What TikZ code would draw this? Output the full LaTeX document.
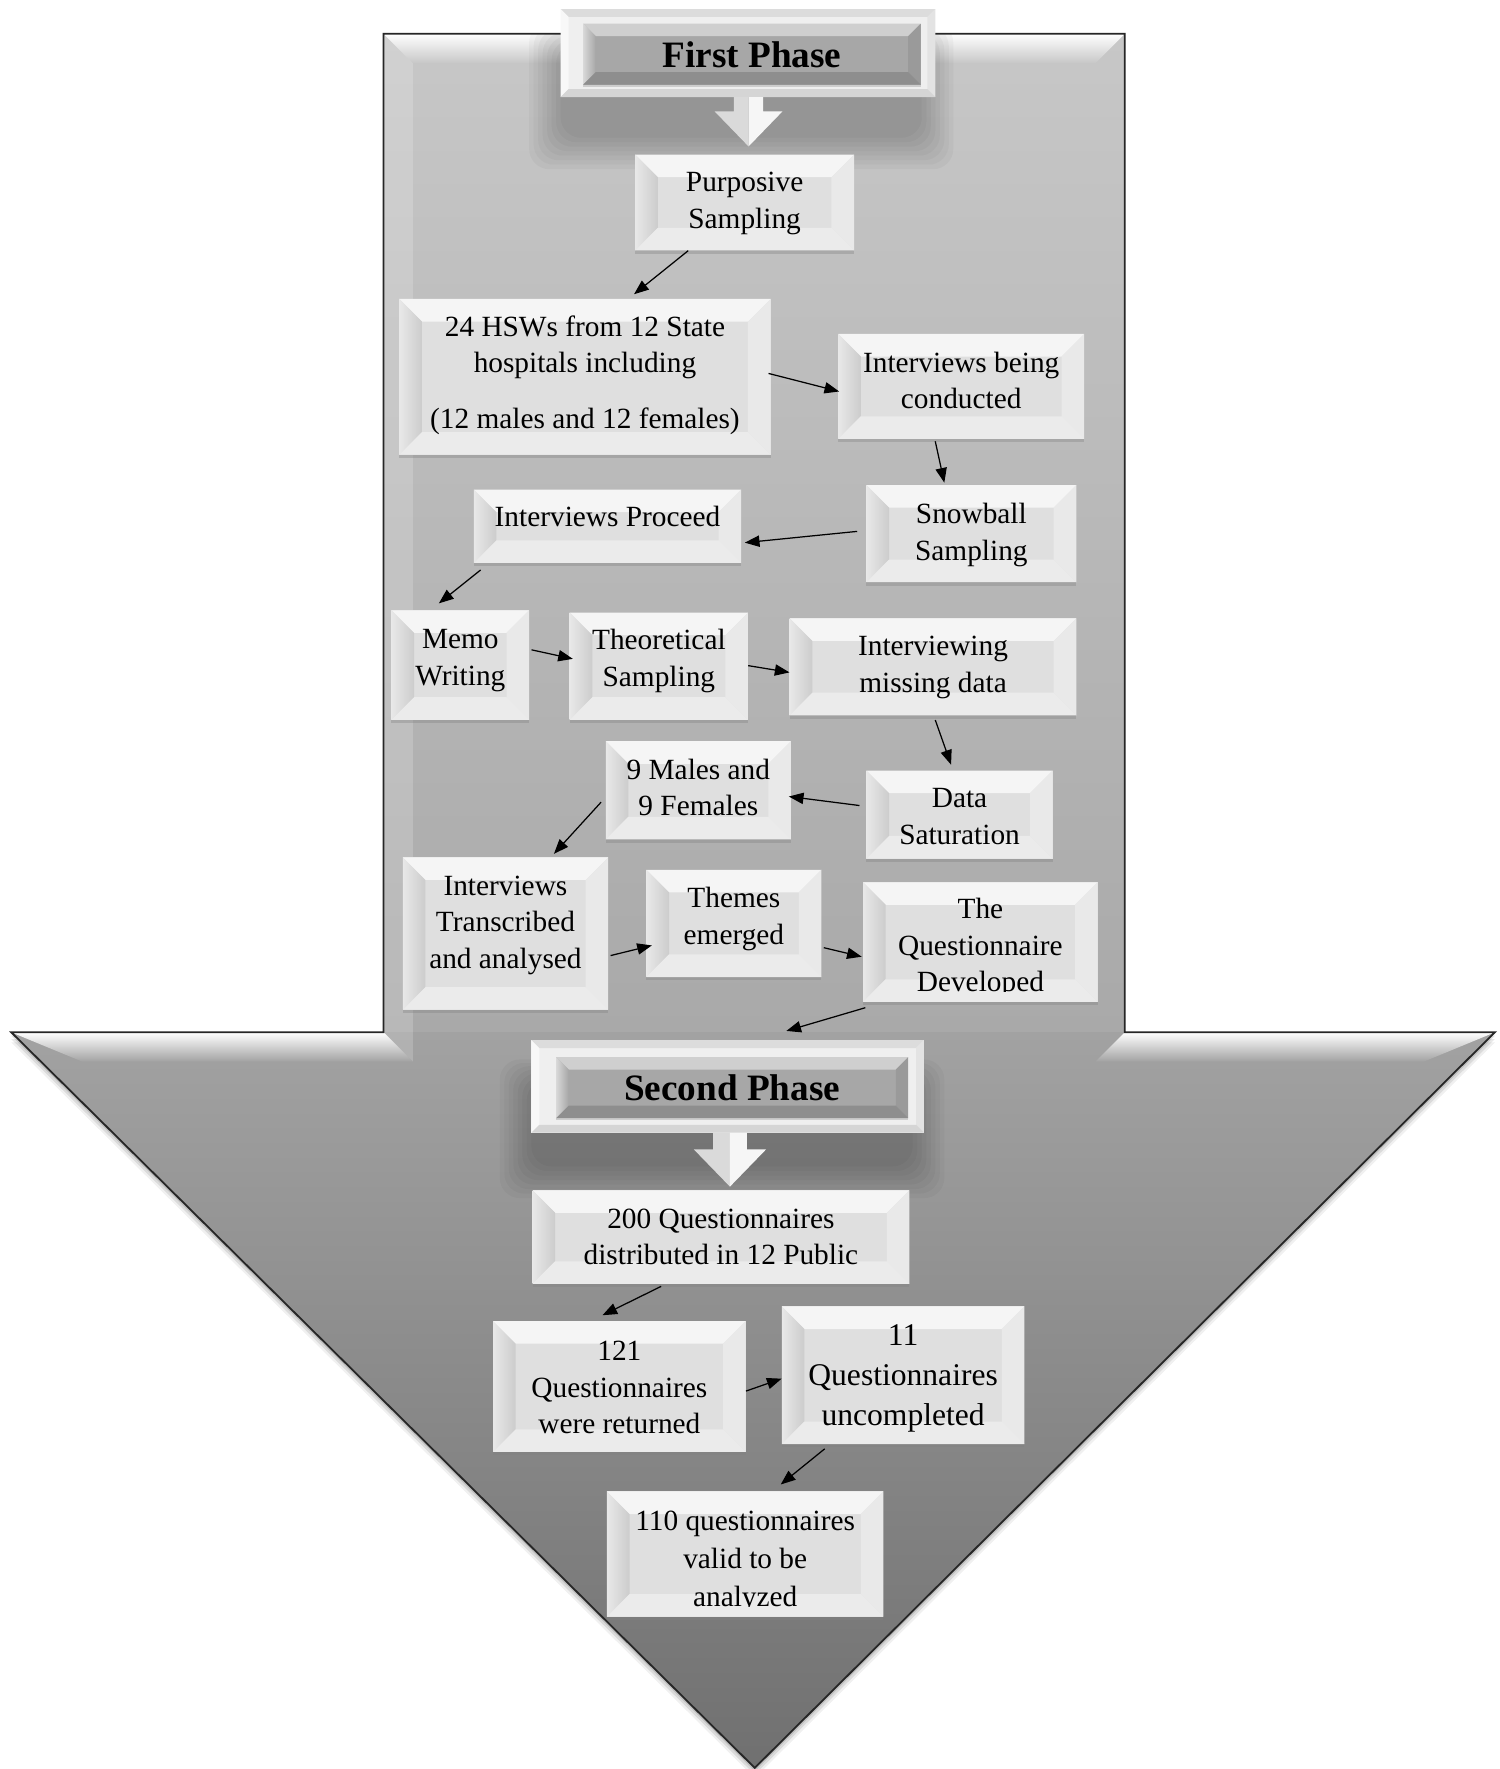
\documentclass[tikz,border=0pt]{standalone}
\usepackage{fontspec}
\setmainfont{Liberation Serif}
\usetikzlibrary{calc,shadows,arrows.meta}

% palette
\definecolor{bxmid}{HTML}{DFDFDF}
\definecolor{bxtop}{HTML}{F5F5F5}
\definecolor{bxlefta}{HTML}{E8E8E8}
\definecolor{bxleftb}{HTML}{CCCCCC}
\definecolor{bxright}{HTML}{E9E9E9}
\definecolor{bxbot}{HTML}{EBEBEB}
\definecolor{frmid}{HTML}{EFEFEF}
\definecolor{frtop}{HTML}{DCDCDC}
\definecolor{frleft}{HTML}{F8F8F8}
\definecolor{frright}{HTML}{E3E3E3}
\definecolor{frbot}{HTML}{D5D5D5}
\definecolor{hdmid}{HTML}{A7A7A7}
\definecolor{hdtop}{HTML}{CFCFCF}
\definecolor{hdleft}{HTML}{D8D8D8}
\definecolor{hdright}{HTML}{9A9A9A}
\definecolor{hdbot}{HTML}{8E8E8E}
\definecolor{shafttop}{HTML}{C7C7C7}
\definecolor{shaftbot}{HTML}{A9A9A9}
\definecolor{headtop}{HTML}{A2A2A2}
\definecolor{headbot}{HTML}{707070}
\definecolor{hollowL}{HTML}{DADADA}
\definecolor{hollowR}{HTML}{F6F6F6}

% type sizes
\newcommand{\txtbody}{\fontsize{26}{32.5}\selectfont}
\newcommand{\txtbig}{\fontsize{28}{35.5}\selectfont}
\newcommand{\txtmid}{\fontsize{26}{34}\selectfont}
\newcommand{\txtphase}{\fontsize{33}{40}\selectfont\bfseries}

% centred lines of a box, optionally lifted inside the box (box size kept)
\newcommand{\boxlines}[2][0pt]{\raisebox{#1}[\height][\depth]{\begin{tabular}{@{}c@{}}#2\end{tabular}}}

% four bevel faces of the current node: #1 depth, #2..#5 top/left/right/bottom fills
\newcommand{\bevelfaces}[5]{%
  \coordinate (pp-nw) at (path picture bounding box.north west);
  \coordinate (pp-ne) at (path picture bounding box.north east);
  \coordinate (pp-sw) at (path picture bounding box.south west);
  \coordinate (pp-se) at (path picture bounding box.south east);
  \path[#2] (pp-nw) -- (pp-ne) -- ([xshift=-#1,yshift=-#1]pp-ne) -- ([xshift=#1,yshift=-#1]pp-nw) -- cycle;
  \path[#3] (pp-nw) -- (pp-sw) -- ([xshift=#1,yshift=#1]pp-sw) -- ([xshift=#1,yshift=-#1]pp-nw) -- cycle;
  \path[#4] (pp-ne) -- (pp-se) -- ([xshift=-#1,yshift=#1]pp-se) -- ([xshift=-#1,yshift=-#1]pp-ne) -- cycle;
  \path[#5] (pp-sw) -- (pp-se) -- ([xshift=-#1,yshift=#1]pp-se) -- ([xshift=#1,yshift=#1]pp-sw) -- cycle;
}

% hollow block arrow pointing down: #1 top centre, #2 tip, #3 half shaft, #4 half head, #5 head length
\newcommand{\hollowdown}[5]{%
  \fill[hollowL] ($(#1)+(-#3,0)$) -- (#1) -- (#2) -- ($(#2)+(-#4,-#5)$) -- ($(#2)+(-#3,-#5)$) -- cycle;
  \fill[hollowR] ($(#1)+(#3,0)$) -- (#1) -- (#2) -- ($(#2)+(#4,-#5)$) -- ($(#2)+(#3,-#5)$) -- cycle;
}

\tikzset{
  dims/.style 2 args={minimum width=#1pt, minimum height=#2pt},
  stepbox/.style={rectangle, inner sep=0pt, fill=bxmid, font=\txtbody,
    drop shadow={shadow xshift=0pt, shadow yshift=-3pt, opacity=.35},
    path picture={\bevelfaces{20pt}{fill=bxtop}{left color=bxlefta,right color=bxleftb}{fill=bxright}{fill=bxbot}}},
  phaseframe/.style={rectangle, inner sep=0pt, fill=frmid,
    path picture={\bevelfaces{7pt}{fill=frtop}{fill=frleft}{fill=frright}{fill=frbot}}},
  phasebox/.style={rectangle, inner sep=0pt, fill=hdmid, font=\txtphase,
    drop shadow={shadow xshift=0pt, shadow yshift=-2pt, opacity=.3},
    path picture={\bevelfaces{11pt}{fill=hdtop}{left color=hdleft,right color=hdmid}{fill=hdright}{fill=hdbot}}},
  conn/.style={-{Triangle[length=13pt,width=10pt]}, line width=1.1pt},
}

\begin{document}
\begin{tikzpicture}[x=1pt, y=-1pt]
\useasboundingbox (0,0) rectangle (1329,1568);
\fill[white] (0,0) rectangle (1329,1568);

% ---- the large downward arrow behind everything ----
\foreach \s/\o in {3/.12,6/.09,9/.06}{
  \fill[black, opacity=\o, shift={(0,\s)}] (340,30) -- (997,30) -- (997,915) -- (1325,915) -- (669,1567) -- (10,915) -- (340,915) -- cycle;
}
\begin{scope}
  \clip (340,30) -- (997,30) -- (997,915) -- (1325,915) -- (669,1567) -- (10,915) -- (340,915) -- cycle;
  \shade[top color=shafttop, bottom color=shaftbot] (0,30) rectangle (1329,915);
  \shade[top color=headtop, bottom color=headbot] (0,915) rectangle (1329,1567);
  % bevel faces
  \shade[top color=white, bottom color=shafttop] (340,30) -- (997,30) -- (971,56) -- (366,56) -- cycle;
  \fill[white, opacity=.18] (340,30) -- (366,56) -- (366,941) -- (340,915) -- cycle;
  \shade[top color=white, bottom color=headtop] (340,915) -- (10,915) -- (73,941) -- (366,941) -- cycle;
  \shade[top color=white, bottom color=headtop] (997,915) -- (1325,915) -- (1262,941) -- (971,941) -- cycle;
  % soft shadows cast by the two phase headers
  \foreach \k in {1,...,8}{
    \fill[black, opacity=.03, rounded corners=18pt] ({663-162-4*\k},{44-3*\k}) rectangle ({663+150+4*\k},{118+4*\k});
    \fill[black, opacity=.03, rounded corners=18pt] ({645-170-4*\k},{963-3*\k}) rectangle ({645+160+4*\k},{1030+4*\k});
  }
\end{scope}
\draw[line width=1.6pt, black!85, line join=miter] (340,30) -- (997,30) -- (997,915) -- (1325,915) -- (669,1567) -- (10,915) -- (340,915) -- cycle;

% ---- first phase ----
\node[phaseframe, dims={332}{78}] (fpf) at (663,47) {};
\node[phasebox, dims={299}{54}] (fpi) at (666.5,48) {\boxlines[-3.5pt]{First Phase}};

\node[stepbox, dims={194}{85}] (ps) at (660,179.5) {\boxlines{Purposive\\Sampling}};
\node[stepbox, dims={329}{138}] (hsw) at (518.5,334) {\boxlines[1.5pt]{24 HSWs from 12 State\\hospitals including\\[17pt](12 males and 12 females)}};
\node[stepbox, dims={218}{93}] (ibc) at (852,342.5) {\boxlines[3pt]{Interviews being\\conducted}};
\node[stepbox, dims={186}{86}] (sb) at (861,473) {\boxlines[-1pt]{Snowball\\Sampling}};
\node[stepbox, dims={237}{65}] (ip) at (538.5,466.5) {\boxlines[6pt]{Interviews Proceed}};
\node[stepbox, dims={122}{97}] (mw) at (408,589.5) {\boxlines[5pt]{Memo\\Writing}};
\node[stepbox, dims={158}{95}] (ts) at (584,590.5) {\boxlines[5pt]{Theoretical\\Sampling}};
\node[stepbox, dims={254}{86}] (imd) at (827,591) {\boxlines{Interviewing\\missing data}};
\node[stepbox, dims={164}{87}] (nm) at (619,700.5) {\boxlines{9 Males and\\9 Females}};
\node[stepbox, dims={165}{78}] (ds) at (850.5,722) {\boxlines[-3.5pt]{Data\\Saturation}};
\node[stepbox, dims={182}{135}] (it) at (448,827.5) {\boxlines[8pt]{Interviews\\Transcribed\\and analysed}};
\node[stepbox, dims={155}{95}] (te) at (650.5,818.5) {\boxlines[4.5pt]{Themes\\emerged}};
\node[stepbox, dims={208}{106}] (qd) at (869,835) {};
\begin{scope}
  \clip (qd.north west) rectangle ($(qd.south east)+(0,-9)$);
  \node[font=\txtbody, inner sep=0pt] (qdtext) at (qd.center) {\boxlines[-5pt]{The\\Questionnaire\\Developed}};
\end{scope}

% ---- second phase ----
\node[phaseframe, dims={348}{82}] (spf) at (645,963) {};
\node[phasebox, dims={312}{54}] (spi) at (649,964) {Second Phase};

\node[stepbox, dims={334}{83}] (q200) at (639,1096.5) {\boxlines[-2pt]{200 Questionnaires\\distributed in 12 Public}};
\node[stepbox, dims={224}{116}] (q121) at (549,1229) {\boxlines[-3pt]{121\\Questionnaires\\were returned}};
\node[stepbox, dims={215}{122}, font=\txtbig] (q11) at (800.5,1219) {\boxlines[-2pt]{11\\Questionnaires\\uncompleted}};
\node[stepbox, dims={245}{111}] (q110) at (660.5,1377.5) {};
\begin{scope}
  \clip (q110.north west) rectangle ($(q110.south east)+(0,-9)$);
  \node[font=\txtmid, inner sep=0pt] (q110text) at (q110.center) {\boxlines[-6pt]{110 questionnaires\\valid to be\\analyzed}};
\end{scope}

% ---- hollow arrows below the headers ----
\coordinate (ha1top) at ($(fpf.south)+(0.5,0)$);
\coordinate (ha1tip) at ($(ps.north)+(3.5,-7)$);
\hollowdown{ha1top}{ha1tip}{13}{30}{31}
\coordinate (ha2top) at ($(spf.south)+(2,0)$);
\coordinate (ha2tip) at ($(q200.north)+(8,-3)$);
\hollowdown{ha2top}{ha2tip}{15}{32}{33}

% ---- connectors ----
\draw[conn] ($(ps.south)+(-50,0)$) -- ($(hsw.north)+(43.5,-4)$);
\draw[conn] ($(hsw.east)+(-2,-3)$) -- ($(ibc.west)+(1,4.5)$);
\draw[conn] ($(ibc.south)+(-23,2)$) -- ($(sb.north)+(-24,-2)$);
\draw[conn] ($(sb.west)+(-8,-2)$) -- ($(ip.east)+(3,14.5)$);
\draw[conn] ($(ip.south)+(-112.5,6)$) -- ($(mw.north)+(-19,-6)$);
\draw[conn] ($(mw.east)+(2,-13.5)$) -- ($(ts.west)+(3,-6.5)$);
\draw[conn] ($(ts.east)+(0,-0.5)$) -- ($(imd.west)+(0,5)$);
\draw[conn] ($(imd.south)+(2,4)$) -- ($(ds.north)+(-7.5,-5)$);
\draw[conn] ($(ds.west)+(-6,-8)$) -- ($(nm.east)+(-2,5.5)$);
\draw[conn] ($(nm.west)+(-4,10.5)$) -- ($(it.north)+(43,-3)$);
\draw[conn] ($(it.east)+(2,19.5)$) -- ($(te.west)+(5,19.5)$);
\draw[conn] ($(te.east)+(2,21.5)$) -- ($(qd.west)+(-1,13)$);
\draw[conn] ($(qd.south)+(-102,5)$) -- ($(spf.north)+(52,-8)$);
\draw[conn] ($(q200.south)+(-53,2)$) -- ($(q121.north)+(-15,-5)$);
\draw[conn] ($(q121.east)+(0,4)$) -- ($(q11.west)+(0,3)$);
\draw[conn] ($(q11.south)+(-69.5,4)$) -- ($(q110.north)+(31.5,-6)$);
\end{tikzpicture}
\end{document}
